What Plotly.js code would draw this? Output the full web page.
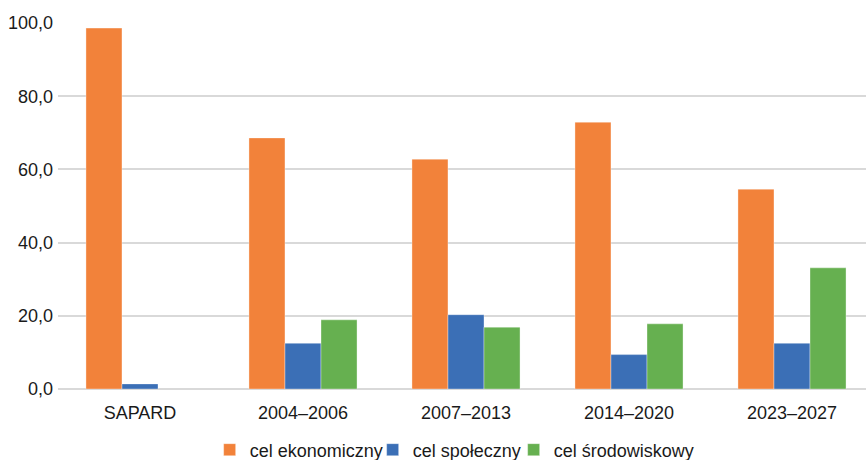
<!DOCTYPE html>
<html>
<head>
<meta charset="utf-8">
<script src="https://cdn.plot.ly/plotly-3.0.1.min.js"></script>
<style>html,body{margin:0;padding:0;background:#fff;}#chart{width:866px;height:460px;}</style>
</head>
<body>
<div id="chart"></div>
<script>
const categories = ["SAPARD", "2004–2006", "2007–2013", "2014–2020", "2023–2027"];
const seriesNames = ["cel ekonomiczny", "cel społeczny", "cel środowiskowy"];
const ekonomiczny = [98.6, 68.6, 62.8, 72.9, 54.6];
const spoleczny = [1.4, 12.5, 20.3, 9.4, 12.5];
const srodowiskowy = [null, 18.9, 16.9, 17.8, 33.1];
const colors = ["#F2823A", "#3B6FB6", "#66B050"];
const legendWidths = [118, 96, null];

const font = {family: "Liberation Sans, Arial, sans-serif", size: 18, color: "#1a1a1a"};
const values = [ekonomiczny, spoleczny, srodowiskowy];
const traces = values.map((v, i) => {
  const t = {
    type: "bar",
    name: seriesNames[i],
    x: categories.map((c, k) => k),
    y: v,
    marker: {color: colors[i], line: {color: "rgba(255,255,255,0.35)", width: 1}},
    hoverinfo: "x+y"
  };
  if (legendWidths[i]) t.legendwidth = legendWidths[i];
  return t;
});

const layout = {
  width: 866, height: 460,
  margin: {l: 58, r: 0, t: 23, b: 71},
  paper_bgcolor: "#fff", plot_bgcolor: "#fff",
  font: font,
  barmode: "group",
  bargap: 0.337,
  bargroupgap: 0,
  xaxis: {
    tickmode: "array",
    tickvals: categories.map((c, k) => k),
    ticktext: categories,
    range: [-0.503, 4.454],
    showgrid: false, zeroline: false, showline: false,
    ticks: "", ticklabelstandoff: 11,
    automargin: false,
    tickfont: font
  },
  yaxis: {
    range: [0, 100],
    dtick: 20,
    tickformat: ".1f",
    showgrid: true, gridcolor: "#d9d9d9", gridwidth: 2,
    zeroline: true, zerolinecolor: "#d9d9d9", zerolinewidth: 2,
    showline: false, ticks: "", ticklabelstandoff: 4,
    automargin: false,
    tickfont: font
  },
  separators: ",.",
  showlegend: true,
  legend: {
    orientation: "h",
    xref: "container", yref: "container",
    x: 0.525, xanchor: "center",
    y: 0.062, yanchor: "top",
    font: font,
    traceorder: "normal"
  }
};

Plotly.newPlot("chart", traces, layout, {displayModeBar: false, staticPlot: true});
</script>
</body>
</html>
